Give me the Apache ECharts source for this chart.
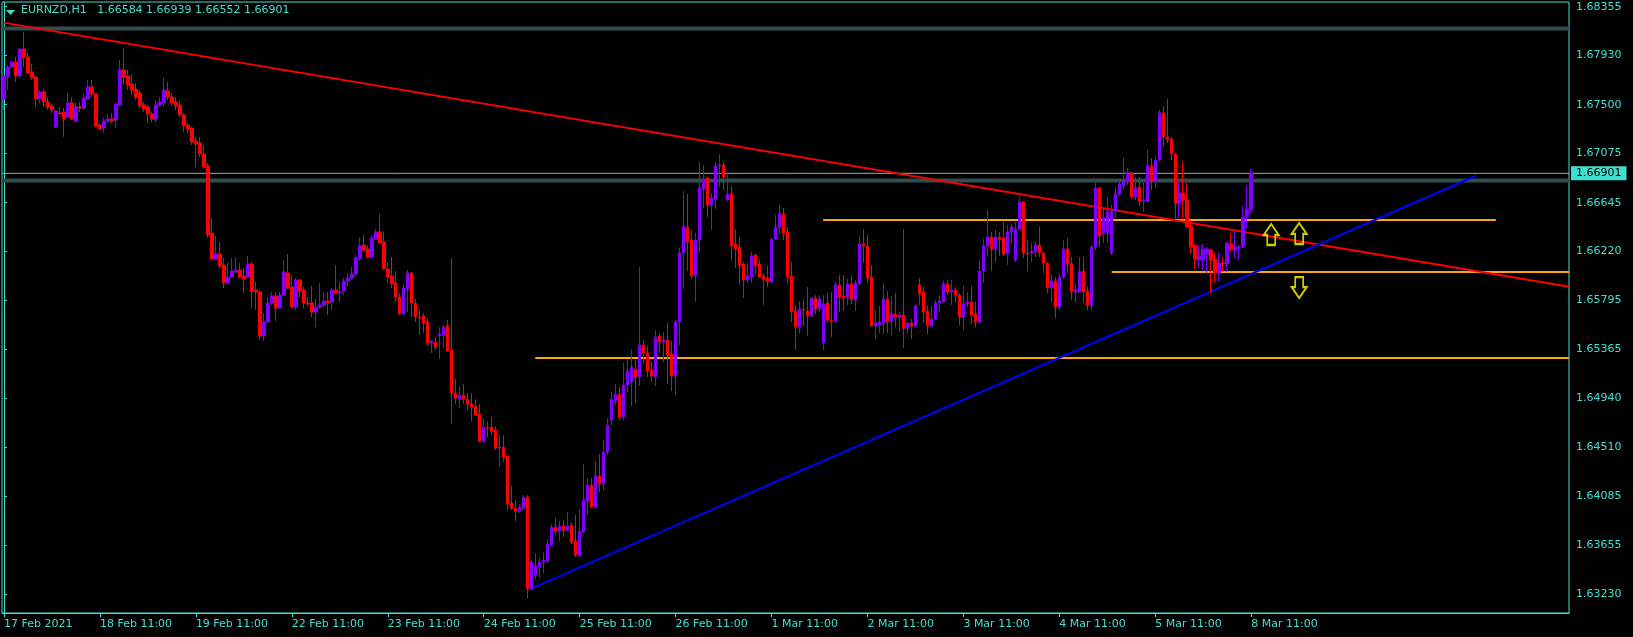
<!DOCTYPE html>
<html><head><meta charset="utf-8">
<script src="https://cdn.jsdelivr.net/npm/echarts@6/dist/echarts.min.js"></script>
<style>html,body{margin:0;padding:0;background:#000;}#c{width:1633px;height:637px;}</style>
</head><body><div id="c"></div>
<script>
// ---------- DATA ----------
const symbolName = 'EURNZD,H1';
const tickLabels = ['17 Feb 2021','18 Feb 11:00','19 Feb 11:00','22 Feb 11:00','23 Feb 11:00','24 Feb 11:00','25 Feb 11:00','26 Feb 11:00','1 Mar 11:00','2 Mar 11:00','3 Mar 11:00','4 Mar 11:00','5 Mar 11:00','8 Mar 11:00'];
const priceTicks = [1.63230,1.63655,1.64085,1.64510,1.64940,1.65365,1.65795,1.66220,1.66645,1.67075,1.67500,1.67930,1.68355];

const open = [
1.67549,1.67742,1.67829,1.67873,1.67751,1.67986,1.67917,1.67786,1.67742,1.67549,
1.67611,1.67524,1.67489,1.67305,1.67428,1.67437,1.67393,1.67515,1.67357,1.67480,
1.67471,1.67549,1.67655,1.67593,1.67322,1.67296,1.67357,1.67375,1.67366,1.67497,
1.67803,1.67751,1.67681,1.67637,1.67602,1.67497,1.67480,1.67419,1.67375,1.67497,
1.67515,1.67619,1.67567,1.67524,1.67497,1.67410,1.67322,1.67296,1.67183,1.67166,
1.67070,1.66965,1.66380,1.66153,1.66197,1.66100,1.65944,1.65996,1.66040,1.66057,
1.66005,1.65996,1.66109,1.65882,1.65865,1.65481,1.65603,1.65769,1.65830,1.65725,
1.65838,1.66031,1.65909,1.65734,1.65970,1.65882,1.65769,1.65769,1.65691,1.65734,
1.65751,1.65786,1.65778,1.65882,1.65856,1.65873,1.65961,1.65987,1.66022,1.66153,
1.66275,1.66240,1.66171,1.66327,1.66389,1.66302,1.66065,1.66005,1.65944,1.65821,
1.65673,1.65891,1.66031,1.65769,1.65647,1.65656,1.65603,1.65420,1.65429,1.65481,
1.65489,1.65568,1.65359,1.64983,1.64930,1.64965,1.64930,1.64887,1.64870,1.64800,
1.64564,1.64686,1.64686,1.64660,1.64503,1.64512,1.64434,1.64023,1.63979,1.63953,
1.63979,1.64075,1.63272,1.63394,1.63464,1.63508,1.63516,1.63656,1.63813,1.63778,
1.63822,1.63787,1.63830,1.63691,1.63561,1.63770,1.64040,1.64180,1.63988,1.64259,
1.64189,1.64469,1.64747,1.64913,1.64974,1.64774,1.65053,1.65080,1.65192,1.65123,
1.65402,1.65333,1.65184,1.65123,1.65481,1.65429,1.65446,1.65324,1.65132,1.65603,
1.66206,1.66432,1.66319,1.66005,1.66319,1.66764,1.66860,1.66624,1.66676,1.66965,
1.66973,1.66668,1.66720,1.66284,1.66258,1.66109,1.65970,1.65996,1.66188,1.66109,
1.66005,1.65987,1.65953,1.66327,1.66432,1.66546,1.66389,1.66005,1.65699,1.65559,
1.65716,1.65699,1.65656,1.65812,1.65716,1.65420,1.65769,1.65620,1.65611,1.65926,
1.65830,1.65821,1.65935,1.65795,1.65935,1.66284,1.66267,1.65996,1.65568,1.65576,
1.65594,1.65803,1.65611,1.65673,1.65647,1.65664,1.65550,1.65594,1.65568,1.65926,
1.65865,1.65699,1.65568,1.65629,1.65769,1.65778,1.65935,1.65865,1.65882,1.65838,
1.65647,1.65760,1.65778,1.65673,1.65603,1.66048,1.66267,1.66345,1.66240,1.66345,
1.66336,1.66197,1.66389,1.66144,1.66414,1.66651,1.66206,1.66206,1.66215,1.66275,
1.66206,1.66118,1.65900,1.65961,1.65734,1.65996,1.66240,1.66109,1.65865,1.65865,
1.66048,1.65873,1.65751,1.66258,1.66773,1.66380,1.66380,1.66206,1.66572,1.66720,
1.66791,1.66834,1.66904,1.66694,1.66782,1.66659,1.66659,1.66965,1.66834,1.67017,
1.67428,1.67218,1.67200,1.67070,1.66642,1.66729,1.66668,1.66441,1.66267,1.66144,
1.66144,1.66197,1.66232,1.66153,1.66031,1.66118,1.66109,1.66284,1.66232,1.66258,
1.66258,1.66520,1.66584];

const close = [
1.67751,1.67829,1.67873,1.67751,1.67986,1.67917,1.67777,1.67733,1.67549,1.67611,
1.67524,1.67480,1.67454,1.67445,1.67419,1.67375,1.67515,1.67375,1.67480,1.67471,
1.67558,1.67655,1.67593,1.67314,1.67287,1.67357,1.67375,1.67357,1.67506,1.67803,
1.67742,1.67672,1.67628,1.67567,1.67489,1.67462,1.67419,1.67375,1.67497,1.67524,
1.67628,1.67567,1.67515,1.67489,1.67410,1.67314,1.67287,1.67175,1.67157,1.67070,
1.66956,1.66362,1.66153,1.66197,1.66092,1.65944,1.65996,1.66048,1.66057,1.65996,
1.65978,1.66109,1.65873,1.65865,1.65481,1.65603,1.65769,1.65830,1.65725,1.65838,
1.66040,1.65900,1.65734,1.65970,1.65873,1.65769,1.65760,1.65691,1.65734,1.65751,
1.65786,1.65769,1.65882,1.65856,1.65865,1.65961,1.65987,1.66022,1.66162,1.66267,
1.66232,1.66171,1.66336,1.66389,1.66293,1.66065,1.65996,1.65935,1.65821,1.65673,
1.65900,1.66031,1.65769,1.65647,1.65638,1.65594,1.65420,1.65437,1.65385,1.65498,
1.65559,1.65350,1.64983,1.64939,1.64965,1.64930,1.64887,1.64861,1.64791,1.64564,
1.64686,1.64677,1.64651,1.64503,1.64512,1.64425,1.64014,1.63979,1.63953,1.63988,
1.64075,1.63272,1.63508,1.63473,1.63508,1.63525,1.63665,1.63813,1.63778,1.63822,
1.63787,1.63822,1.63683,1.63569,1.63778,1.64049,1.64180,1.63988,1.64259,1.64189,
1.64469,1.64703,1.64930,1.64974,1.64774,1.65053,1.65175,1.65210,1.65123,1.65402,
1.65333,1.65175,1.65132,1.65472,1.65429,1.65446,1.65315,1.65132,1.65603,1.66206,
1.66441,1.66302,1.66005,1.66319,1.66773,1.66851,1.66624,1.66685,1.66965,1.66973,
1.66869,1.66720,1.66267,1.66240,1.66100,1.65970,1.66005,1.66180,1.66100,1.65996,
1.65978,1.65953,1.66327,1.66432,1.66546,1.66380,1.65996,1.65691,1.65559,1.65716,
1.65708,1.65656,1.65812,1.65716,1.65803,1.65760,1.65620,1.65611,1.65926,1.65821,
1.65812,1.65935,1.65803,1.65944,1.66284,1.66267,1.65987,1.65568,1.65594,1.65603,
1.65803,1.65603,1.65673,1.65647,1.65664,1.65550,1.65594,1.65568,1.65743,1.65847,
1.65691,1.65568,1.65629,1.65769,1.65786,1.65935,1.65865,1.65882,1.65838,1.65647,
1.65760,1.65778,1.65664,1.65603,1.66048,1.66267,1.66345,1.66240,1.66345,1.66327,
1.66197,1.66389,1.66432,1.66414,1.66651,1.66206,1.66197,1.66223,1.66275,1.66206,
1.66118,1.65900,1.65961,1.65734,1.65996,1.66240,1.66109,1.65865,1.65882,1.66048,
1.65865,1.65751,1.66258,1.66773,1.66354,1.66511,1.66572,1.66572,1.66720,1.66808,
1.66834,1.66904,1.66694,1.66773,1.66659,1.66668,1.66965,1.66834,1.67017,1.67428,
1.67218,1.67192,1.67070,1.66642,1.66729,1.66668,1.66432,1.66258,1.66153,1.66180,
1.66240,1.66240,1.66144,1.66031,1.66118,1.66109,1.66293,1.66240,1.66258,1.66258,
1.66520,1.66589,1.66901];

const low = [
1.67454,1.67628,1.67820,1.67699,1.67733,1.67829,1.67768,1.67716,1.67480,1.67515,
1.67480,1.67454,1.67428,1.67296,1.67410,1.67218,1.67384,1.67366,1.67349,1.67437,
1.67454,1.67541,1.67567,1.67305,1.67279,1.67253,1.67340,1.67340,1.67296,1.67489,
1.67672,1.67628,1.67584,1.67541,1.67471,1.67437,1.67340,1.67349,1.67349,1.67480,
1.67480,1.67541,1.67489,1.67454,1.67393,1.67262,1.67253,1.67148,1.66956,1.67044,
1.66947,1.66336,1.66144,1.66144,1.66074,1.65900,1.65935,1.65987,1.66031,1.65987,
1.65856,1.65987,1.65725,1.65708,1.65446,1.65437,1.65594,1.65751,1.65611,1.65716,
1.65830,1.65891,1.65725,1.65708,1.65821,1.65725,1.65743,1.65647,1.65559,1.65716,
1.65734,1.65664,1.65708,1.65847,1.65778,1.65838,1.65909,1.65970,1.65996,1.66135,
1.66215,1.66162,1.66162,1.66319,1.66284,1.66057,1.65944,1.65900,1.65778,1.65664,
1.65664,1.65691,1.65647,1.65603,1.65489,1.65507,1.65394,1.65333,1.65359,1.65280,
1.65376,1.65342,1.64712,1.64887,1.64852,1.64887,1.64835,1.64738,1.64783,1.64556,
1.64556,1.64599,1.64616,1.64486,1.64337,1.64381,1.63962,1.63962,1.63865,1.63936,
1.63962,1.63193,1.63263,1.63359,1.63368,1.63412,1.63508,1.63648,1.63752,1.63691,
1.63726,1.63778,1.63665,1.63552,1.63552,1.63761,1.63918,1.63979,1.63979,1.64119,
1.64136,1.64442,1.64703,1.64878,1.64747,1.64747,1.64992,1.64870,1.64896,1.65045,
1.65245,1.65123,1.65080,1.65045,1.65333,1.65254,1.65062,1.65000,1.64965,1.65402,
1.65891,1.66048,1.65978,1.65778,1.66215,1.66598,1.66520,1.66406,1.66589,1.66782,
1.66755,1.66659,1.66135,1.66074,1.65935,1.65812,1.65944,1.65944,1.66022,1.65987,
1.65751,1.65909,1.65944,1.66319,1.66371,1.66319,1.65944,1.65603,1.65359,1.65507,
1.65568,1.65481,1.65647,1.65673,1.65691,1.65359,1.65603,1.65472,1.65603,1.65691,
1.65699,1.65751,1.65760,1.65699,1.65926,1.66118,1.65944,1.65559,1.65454,1.65507,
1.65498,1.65507,1.65489,1.65559,1.65516,1.65376,1.65507,1.65454,1.65559,1.65751,
1.65594,1.65498,1.65559,1.65620,1.65691,1.65769,1.65838,1.65751,1.65778,1.65576,
1.65533,1.65734,1.65585,1.65559,1.65594,1.65944,1.66171,1.66048,1.66127,1.66180,
1.66180,1.66100,1.66293,1.66127,1.66406,1.66162,1.66048,1.66127,1.66171,1.66171,
1.66031,1.65856,1.65778,1.65638,1.65708,1.65978,1.66031,1.65795,1.65778,1.65856,
1.65769,1.65708,1.65708,1.66232,1.66258,1.66293,1.66293,1.66188,1.66511,1.66703,
1.66755,1.66799,1.66685,1.66668,1.66616,1.66564,1.66651,1.66755,1.66773,1.67008,
1.67131,1.67166,1.67017,1.66493,1.66511,1.66493,1.66423,1.66197,1.66065,1.66074,
1.66057,1.66031,1.65856,1.65944,1.65953,1.66040,1.66040,1.66215,1.66162,1.66144,
1.66249,1.66423,1.66552];

const high = [
1.67759,1.67846,1.67881,1.67917,1.67995,1.68135,1.67952,1.67855,1.67751,1.67628,
1.67637,1.67567,1.67506,1.67454,1.67480,1.67471,1.67602,1.67567,1.67515,1.67524,
1.67602,1.67716,1.67716,1.67602,1.67340,1.67384,1.67419,1.67428,1.67515,1.67890,
1.67995,1.67803,1.67768,1.67690,1.67628,1.67524,1.67497,1.67437,1.67541,1.67567,
1.67733,1.67699,1.67602,1.67567,1.67541,1.67428,1.67340,1.67305,1.67218,1.67218,
1.67148,1.66991,1.66511,1.66354,1.66302,1.66162,1.66118,1.66162,1.66162,1.66118,
1.66074,1.66180,1.66127,1.65953,1.65882,1.65682,1.65821,1.65865,1.65865,1.65865,
1.66144,1.66197,1.66013,1.65987,1.65978,1.65909,1.65821,1.65918,1.65803,1.65944,
1.65865,1.65865,1.65900,1.66100,1.65953,1.65987,1.66031,1.66083,1.66188,1.66345,
1.66362,1.66275,1.66354,1.66414,1.66546,1.66397,1.66127,1.66171,1.66048,1.65856,
1.65935,1.66057,1.66040,1.65803,1.65716,1.65682,1.65638,1.65446,1.65472,1.65559,
1.65576,1.65620,1.66162,1.65105,1.65045,1.65062,1.64983,1.64983,1.64930,1.64887,
1.64765,1.64738,1.64774,1.64695,1.64616,1.64616,1.64442,1.64172,1.64049,1.64014,
1.64092,1.64092,1.63525,1.63587,1.63552,1.63596,1.63708,1.63839,1.63892,1.63865,
1.63874,1.63945,1.63857,1.63918,1.63970,1.64363,1.64241,1.64241,1.64389,1.64451,
1.64573,1.64765,1.64992,1.65062,1.65036,1.65245,1.65280,1.65367,1.65271,1.66083,
1.65446,1.65394,1.65254,1.65533,1.65507,1.65516,1.65594,1.65437,1.65620,1.66249,
1.66746,1.66720,1.66406,1.66380,1.67000,1.66973,1.66869,1.66729,1.67000,1.67070,
1.67000,1.66904,1.66791,1.66414,1.66345,1.66127,1.66118,1.66215,1.66197,1.66153,
1.66031,1.66092,1.66336,1.66537,1.66624,1.66598,1.66432,1.66127,1.65751,1.65786,
1.65803,1.65909,1.65821,1.65838,1.65838,1.65838,1.65856,1.65865,1.65953,1.66013,
1.66013,1.65978,1.66013,1.65970,1.66354,1.66414,1.66362,1.66100,1.65708,1.65743,
1.65944,1.65873,1.65830,1.65856,1.65691,1.66414,1.65603,1.65629,1.65760,1.65987,
1.65909,1.65751,1.65743,1.65795,1.65838,1.65961,1.65970,1.65970,1.65909,1.65856,
1.65918,1.65865,1.65918,1.65778,1.66144,1.66327,1.66581,1.66389,1.66406,1.66389,
1.66476,1.66449,1.66458,1.66476,1.66694,1.66659,1.66319,1.66293,1.66302,1.66432,
1.66215,1.66127,1.66022,1.65996,1.66022,1.66319,1.66336,1.66171,1.65935,1.66171,
1.66171,1.65909,1.66275,1.66817,1.66782,1.66598,1.66694,1.66624,1.66782,1.66843,
1.67035,1.66947,1.66913,1.66869,1.66869,1.66826,1.67105,1.67035,1.67053,1.67454,
1.67489,1.67549,1.67218,1.67079,1.66826,1.67008,1.66817,1.66493,1.66284,1.66275,
1.66284,1.66258,1.66240,1.66206,1.66206,1.66171,1.66302,1.66380,1.66389,1.66275,
1.66616,1.66799,1.66939];

// horizontal levels (price) and their anchor bar indices
const darkLevels = [1.68165, 1.66838];
const bidPrice = 1.66901;
const orangeLevels = [
  {price: 1.66494, from: 204.9, to: 373.2},
  {price: 1.66039, from: 277.1, to: 391.5},
  {price: 1.65289, from: 132.9, to: 391.5}
];
const redTrend = [[-0.2, 1.68216], [391.5, 1.65911]];
const blueTrend = [[132.2, 1.63281], [368.2, 1.66880]];
const upArrows = [[317.0, 1.66367], [324.0, 1.66376]];
const downArrows = [[324.0, 1.65904]];

// ---------- CHART ----------
const N = open.length;
const SLOTS = 392;
const CYAN = '#40E0D0';
const BULL = '#8000FF';
const BEAR = '#FF0000';
const FONT = 'DejaVu Sans';
const cats = Array.from({length: SLOTS}, (_, i) => String(i));
const showTick = (i) => i % 24 === 0 && i / 24 < tickLabels.length;

function hline(price, from, to, color, width, z) {
  return {type: 'line', xAxisIndex: 1, yAxisIndex: 0, data: [[from, price], [to, price]],
    symbol: 'none', silent: true, lineStyle: {color: color, width: width}, z: z || 2, emphasis: {disabled: true}};
}
function tline(pts, color, width) {
  return {type: 'line', xAxisIndex: 1, yAxisIndex: 0, data: pts, symbol: 'none', silent: true,
    lineStyle: {color: color, width: width}, z: 3, emphasis: {disabled: true}};
}

const header = symbolName + '   ' + [open[N-1], high[N-1], low[N-1], close[N-1]].map(v => v.toFixed(5)).join(' ');

const series = [];
darkLevels.forEach(p => series.push(hline(p, -0.5, SLOTS - 0.5, '#2F4F4F', 4, 1)));
series.push(Object.assign(hline(bidPrice, -0.5, SLOTS - 0.5, '#A9A9A9', 1, 2), {
  endLabel: {show: true, formatter: () => bidPrice.toFixed(5), color: '#000', backgroundColor: CYAN,
    padding: [2, 5, 1, 5], fontSize: 11, fontFamily: FONT, distance: 2}
}));
orangeLevels.forEach(o => series.push(hline(o.price, o.from, o.to, '#FFA500', 2, 3)));
series.push(tline(redTrend, '#FF0000', 2));
series.push(tline(blueTrend, '#0000FF', 2));
series.push({type: 'scatter', xAxisIndex: 1, yAxisIndex: 0, data: upArrows, silent: true,
  symbol: 'path://M8.5,0 L17,12 L13,12 L13,23 L4,23 L4,12 L0,12 Z', symbolSize: [15, 21],
  itemStyle: {color: 'rgba(0,0,0,0)', borderColor: '#FFFF00', borderWidth: 2}, z: 4});
series.push({type: 'scatter', xAxisIndex: 1, yAxisIndex: 0, data: downArrows, silent: true,
  symbol: 'path://M4,0 L13,0 L13,11 L17,11 L8.5,23 L0,11 L4,11 Z', symbolSize: [15, 21],
  itemStyle: {color: 'rgba(0,0,0,0)', borderColor: '#FFFF00', borderWidth: 2}, z: 4});
series.push({type: 'candlestick', xAxisIndex: 0, yAxisIndex: 0, barWidth: 3, silent: true,
  data: open.map((o, i) => [o, close[i], low[i], high[i]]),
  itemStyle: {color: BULL, color0: BEAR, borderColor: BULL, borderColor0: BEAR, borderWidth: 1},
  emphasis: {disabled: true}, z: 6});

const chart = echarts.init(document.getElementById('c'), null, {renderer: 'canvas'});
chart.setOption({
  backgroundColor: '#000',
  animation: false,
  textStyle: {fontFamily: FONT},
  title: {text: header, left: 21, top: 5, padding: 0,
    textStyle: {color: CYAN, fontSize: 11, fontWeight: 'normal', fontFamily: FONT}},
  graphic: [{type: 'polygon', shape: {points: [[6, 10], [15, 10], [10.5, 15]]}, style: {fill: CYAN}}],
  grid: {left: 2, right: 64, top: 2, bottom: 24, show: true, borderColor: CYAN, borderWidth: 1},
  xAxis: [
    {type: 'category', data: cats, boundaryGap: true,
      axisLine: {show: true, lineStyle: {color: CYAN}},
      axisTick: {show: true, alignWithLabel: true, interval: (i) => showTick(i), length: 4, lineStyle: {color: CYAN}},
      axisLabel: {show: true, interval: (i) => showTick(i), formatter: (v, i) => tickLabels[i / 24] || '',
        color: CYAN, fontSize: 11, fontFamily: FONT, align: 'left', margin: 6},
      splitLine: {show: false}},
    {type: 'value', min: -0.5, max: SLOTS - 0.5, show: false}
  ],
  yAxis: {type: 'value', position: 'right', min: 1.63064, max: 1.68396,
    axisLine: {show: true, lineStyle: {color: CYAN}},
    axisTick: {show: true, customValues: priceTicks, length: 3, lineStyle: {color: CYAN}},
    axisLabel: {show: true, customValues: priceTicks, formatter: (v) => v.toFixed(5),
      color: CYAN, fontSize: 11, fontFamily: FONT, margin: 7},
    splitLine: {show: false}},
  series: series
});
</script></body></html>
